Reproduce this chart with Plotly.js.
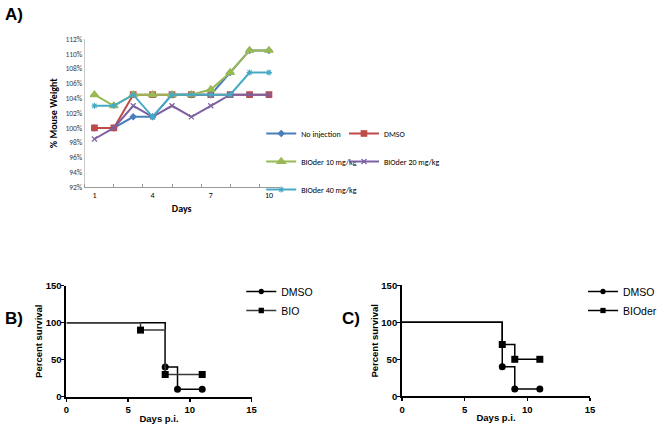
<!DOCTYPE html>
<html><head><meta charset="utf-8">
<script src="https://cdn.plot.ly/plotly-3.0.1.min.js"></script>
<style>html,body{margin:0;padding:0;background:#fff}#chart{width:662px;height:426px}</style>
</head><body><div id="chart"></div>
<script>
// ---- Panel A: % mouse weight ----
const days = [1, 2, 3, 4, 5, 6, 7, 8, 9, 10];
const noInjection = [100, 100, 101.5, 101.5, 104.5, 104.5, 104.5, 107.5, 110.5, 110.5];
const dmso = [100, 100, 104.5, 104.5, 104.5, 104.5, 104.5, 104.5, 104.5, 104.5];
const bioder10 = [104.5, 103, 104.5, 104.5, 104.5, 104.5, 105.2, 107.5, 110.5, 110.5];
const bioder20 = [98.5, 100, 103, 101.5, 103, 101.5, 103, 104.5, 104.5, 104.5];
const bioder40 = [103, 103, 104.5, 101.5, 104.5, 104.5, 104.5, 104.5, 107.5, 107.5];
const dayTicks = [1, 4, 7, 10];

// ---- Panel B: survival DMSO vs BIO ----
const bDmsoDays = [0, 8, 9, 11];
const bDmsoSurv = [100, 40, 10, 10];
const bBioDays = [0, 6, 8, 11];
const bBioSurv = [100, 90, 30, 30];

// ---- Panel C: survival DMSO vs BIOder ----
const cDmsoDays = [0, 8, 9, 11];
const cDmsoSurv = [100, 40, 10, 10];
const cBioderDays = [0, 8, 9, 11];
const cBioderSurv = [100, 70, 50, 50];

const W = 662, H = 426;
const px = v => v / W, py = v => 1 - v / H;
const calib = "Carlito, 'Liberation Sans Narrow', 'Open Sans', sans-serif";
const arial = "'Liberation Sans', Arial, sans-serif";

function weightTrace(name, y, color, symbol, size, legend, group) {
  return {
    x: days, y: y, name: name, type: 'scatter', mode: 'lines+markers',
    xaxis: 'x', yaxis: 'y', legend: legend, legendgroup: group,
    line: {color: color, width: 2},
    marker: {color: color, symbol: symbol, size: size, line: {color: color, width: 1.2}}
  };
}
function kmTrace(name, x, y, color, symbol, xa, ya, legend) {
  return {
    x: x, y: y, name: name, type: 'scatter', mode: 'lines+markers',
    xaxis: xa, yaxis: ya, legend: legend,
    line: {color: color, width: 1.5, shape: 'hv'},
    marker: {color: '#000', symbol: symbol, opacity: 1, line: {width: 0},
             size: x.map((v, i) => i === 0 ? 0 : 7)},
    cliponaxis: false
  };
}

const data = [
  weightTrace('No injection', noInjection, '#4A7EBB', 'diamond', 4.5, 'legend', 'a'),
  weightTrace('DMSO', dmso, '#BE4B48', 'square', 5.5, 'legend2', 'b'),
  weightTrace('BIOder 10 mg/kg', bioder10, '#98B954', 'triangle-up', 7.5, 'legend', 'c'),
  weightTrace('BIOder 20 mg/kg', bioder20, '#7D60A0', 'x-thin-open', 5, 'legend2', 'd'),
  weightTrace('BIOder 40 mg/kg', bioder40, '#46AAC5', 'asterisk-open', 5, 'legend', 'e'),
  kmTrace('DMSO', bDmsoDays, bDmsoSurv, '#000', 'circle', 'x2', 'y2', 'legend3'),
  kmTrace('BIO', bBioDays, bBioSurv, '#3a3a3a', 'square', 'x2', 'y2', 'legend3'),
  kmTrace('DMSO', cDmsoDays, cDmsoSurv, '#000', 'circle', 'x3', 'y3', 'legend4'),
  kmTrace('BIOder', cBioderDays, cBioderSurv, '#000', 'square', 'x3', 'y3', 'legend4')
];

const kmX = (dom) => ({
  domain: dom, range: [0, 15], dtick: 5, tick0: 0, showline: true, linecolor: '#000', linewidth: 2,
  ticks: 'outside', ticklen: 3, tickwidth: 1.5, tickcolor: '#000', showgrid: false, zeroline: false,
  tickfont: {family: arial, size: 9.5, color: '#000', weight: 'bold'},
  title: {text: 'Days p.i.', standoff: 1, font: {family: arial, size: 9.5, color: '#000', weight: 'bold'}}
});
const kmY = (dom, anchor) => ({
  domain: dom, range: [0, 150], dtick: 50, tick0: 0, showline: true, linecolor: '#000', linewidth: 2,
  ticks: 'outside', ticklen: 3, tickwidth: 1.5, tickcolor: '#000', showgrid: false, zeroline: false,
  anchor: anchor, ticklabelstandoff: -2,
  tickfont: {family: arial, size: 9.5, color: '#000', weight: 'bold'},
  title: {text: 'Percent survival', standoff: 1, font: {family: arial, size: 9.5, color: '#000', weight: 'bold'}}
});

const legA = (x) => ({
  x: px(x), xanchor: 'left', y: py(119), yanchor: 'top', bgcolor: 'rgba(0,0,0,0)',
  font: {family: calib, size: 8, color: '#000'}, tracegroupgap: 9, borderwidth: 0
});
const legKM = (x) => ({
  x: px(x), xanchor: 'left', y: py(277), yanchor: 'top', bgcolor: 'rgba(0,0,0,0)',
  font: {family: arial, size: 10.5, color: '#000'}, tracegroupgap: 0, borderwidth: 0
});

const layout = {
  width: W, height: H, margin: {l: 0, r: 0, t: 0, b: 0},
  paper_bgcolor: '#fff', plot_bgcolor: 'rgba(0,0,0,0)',
  xaxis: {
    domain: [px(85), px(279.5)], range: [0.5, 10.5], tickvals: dayTicks, ticks: '',
    showline: true, linecolor: '#9a9a9a', linewidth: 1, showgrid: false, zeroline: false,
    minor: {tickmode: 'array', tickvals: [0.5, 2, 3.5, 5, 6.5, 8, 9.5], ticks: 'inside', ticklen: 3, tickcolor: '#9a9a9a'},
    tickfont: {family: calib, size: 8, color: '#000'},
    title: {text: 'Days', standoff: 6, font: {family: calib, size: 10, color: '#000', weight: 'bold'}}
  },
  yaxis: {
    domain: [py(187), py(39.3)], range: [92, 112], dtick: 2, tick0: 92, ticksuffix: '%', ticks: '',
    showline: true, linecolor: '#c8c8c8', linewidth: 1, showgrid: false, zeroline: false,
    tickfont: {family: calib, size: 7.5, color: '#404040'},
    title: {text: '% Mouse Weight', standoff: 5, font: {family: calib, size: 10, color: '#000', weight: 'bold'}}
  },
  xaxis2: Object.assign(kmX([px(66.7), px(252.3)]), {anchor: 'y2'}),
  yaxis2: kmY([py(396.7), py(285.7)], 'x2'),
  xaxis3: Object.assign(kmX([px(403.3), px(591.7)]), {anchor: 'y3'}),
  yaxis3: kmY([py(396.3), py(285.3)], 'x3'),
  legend: legA(262),
  legend2: legA(345),
  legend3: legKM(242),
  legend4: legKM(585),
  showlegend: true,
  annotations: [
    {text: 'A)', x: px(3), y: py(14), xref: 'paper', yref: 'paper', xanchor: 'left', yanchor: 'middle', showarrow: false, font: {family: arial, size: 17, color: '#000', weight: 'bold'}},
    {text: 'B)', x: px(3), y: py(318), xref: 'paper', yref: 'paper', xanchor: 'left', yanchor: 'middle', showarrow: false, font: {family: arial, size: 17, color: '#000', weight: 'bold'}},
    {text: 'C)', x: px(341), y: py(318), xref: 'paper', yref: 'paper', xanchor: 'left', yanchor: 'middle', showarrow: false, font: {family: arial, size: 17, color: '#000', weight: 'bold'}}
  ]
};

Plotly.newPlot('chart', data, layout, {displayModeBar: false, staticPlot: true});
</script>
</body></html>
